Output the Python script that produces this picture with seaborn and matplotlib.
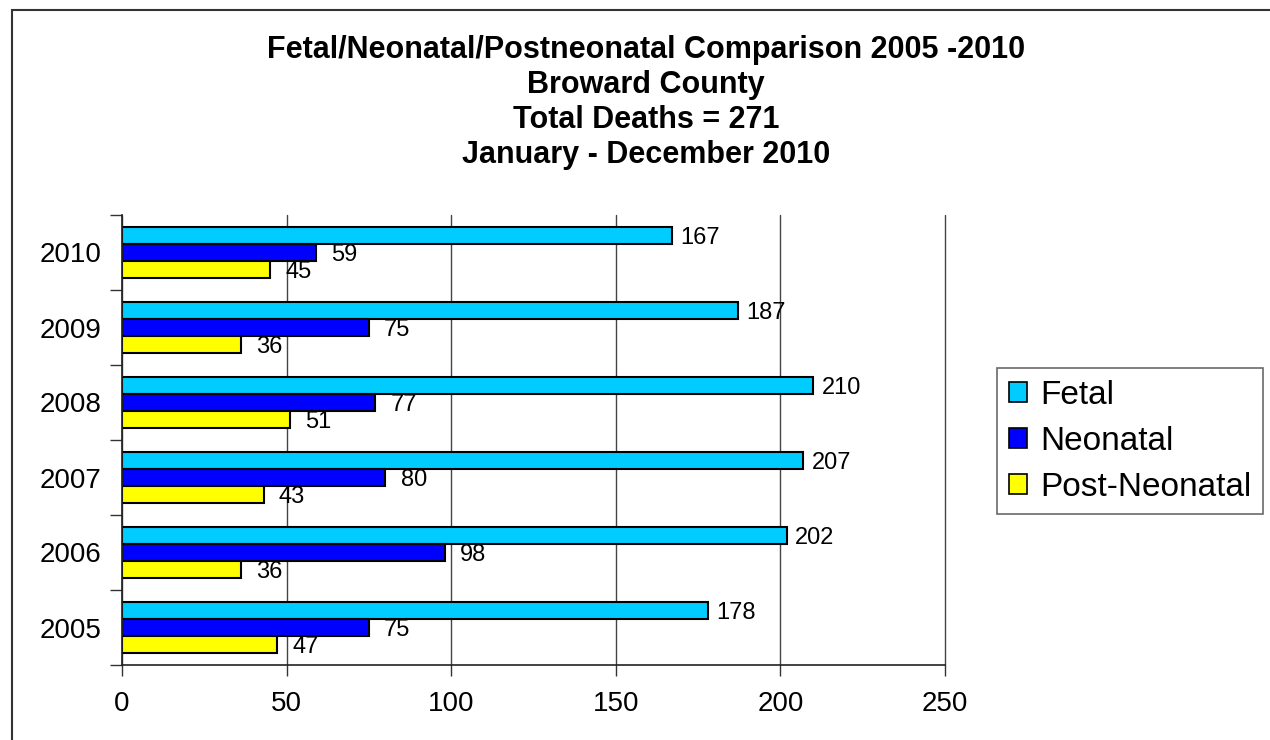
import matplotlib
matplotlib.use("Agg")
import matplotlib.pyplot as plt
import matplotlib.patches as mpatches
from matplotlib.ticker import FixedLocator
import seaborn as sns
import pandas as pd

# Data
years = ["2010", "2009", "2008", "2007", "2006", "2005"]
fetal = [167, 187, 210, 207, 202, 178]
neonatal = [59, 75, 77, 80, 98, 75]
post_neonatal = [45, 36, 51, 43, 36, 47]
series_names = ["Fetal", "Neonatal", "Post-Neonatal"]
series_colors = ["#00CCFF", "#0000FF", "#FFFF00"]
title_lines = [
    "Fetal/Neonatal/Postneonatal Comparison 2005 -2010",
    "Broward County",
    "Total Deaths = 271",
    "January - December 2010",
]
x_ticks = [0, 50, 100, 150, 200, 250]

rows = []
for name, vals in zip(series_names, [fetal, neonatal, post_neonatal]):
    for yr, v in zip(years, vals):
        rows.append({"Year": yr, "Type": name, "Deaths": v})
df = pd.DataFrame(rows)

sns.set_style("white")
plt.rcParams["font.family"] = ["Liberation Sans", "DejaVu Sans"]
plt.rcParams["text.color"] = "black"
plt.rcParams["xtick.color"] = "black"
plt.rcParams["ytick.color"] = "black"
plt.rcParams["axes.labelcolor"] = "black"

W, H = 1270, 740
fig = plt.figure(figsize=(W / 100, H / 100), dpi=100)
ax = fig.add_axes([122 / W, 1 - 665 / H, (945 - 122) / W, (665 - 215) / H])

sns.barplot(
    data=df, y="Year", x="Deaths", hue="Type",
    order=years, hue_order=series_names,
    palette=series_colors, orient="h", width=0.68,
    edgecolor="black", linewidth=1.5, saturation=1,
    errorbar=None, legend=False, ax=ax,
)

# Value labels beside each bar
pads = [6, 11, 11]
for cont, pad in zip(ax.containers, pads):
    labels = ax.bar_label(cont, padding=pad, fontsize=17, color="black")
    for t in labels:
        t.set_va("center_baseline")

# Axes ranges and ticks
ax.set_xlim(0, 250)
ax.set_ylim(len(years) - 0.5, -0.5)
ax.set_xticks(x_ticks)
ax.set_xticklabels([str(t) for t in x_ticks])
ax.tick_params(axis="x", which="major", direction="out", length=8, width=1,
               color="#333333", labelsize=20, pad=11, bottom=True)
ax.yaxis.set_minor_locator(FixedLocator([i - 0.5 for i in range(len(years) + 1)]))
ax.tick_params(axis="y", which="major", length=0, labelsize=20, pad=15, left=True)
ax.tick_params(axis="y", which="minor", direction="out", length=9, width=1,
               color="#333333", left=True)
ax.set_xlabel("")
ax.set_ylabel("")

# Vertical gridlines
ax.grid(axis="x", color="#444444", linewidth=1)
ax.grid(axis="y", visible=False)
for gl in ax.get_xgridlines():
    gl.set_clip_on(False)
ax.set_axisbelow(True)

for side in ["top", "right"]:
    ax.spines[side].set_visible(False)
for side in ["left", "bottom"]:
    ax.spines[side].set_color("#222222")
    ax.spines[side].set_linewidth(1.2)

# Legend
handles = [mpatches.Patch(facecolor=c, edgecolor="black", linewidth=1.2, label=n)
           for n, c in zip(series_names, series_colors)]
leg = ax.legend(
    handles=handles, loc="upper left",
    bbox_to_anchor=(997 / W, 1 - 368 / H), bbox_transform=fig.transFigure,
    borderaxespad=0, fontsize=24, frameon=True, fancybox=False,
    handlelength=0.55, handleheight=0.55, handletextpad=0.4,
    labelspacing=0.45, borderpad=0.35,
)
leg.get_frame().set_edgecolor("#444444")
leg.get_frame().set_linewidth(1.2)

# Title lines
for i, line in enumerate(title_lines):
    fig.text(646 / W, 1 - (50 + 35 * i) / H, line, ha="center", va="center",
             fontsize=22, fontweight="bold")

# Outer frame
fig.patches.append(mpatches.Rectangle(
    (12 / W, -0.1), 1.2, 1 - 10 / H + 0.1, transform=fig.transFigure,
    fill=False, edgecolor="#333333", linewidth=1.5))

fig.savefig("out.png", dpi=100, facecolor="white")
